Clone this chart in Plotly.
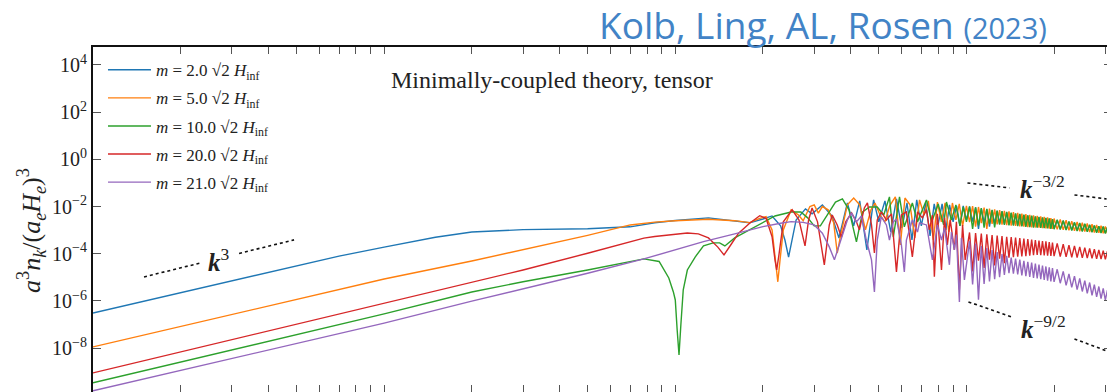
import plotly.graph_objects as go

# ---------------- data (log10 of a^3 n_k/(a_e H_e)^3) ----------------
k_blue = [0.01, 0.03, 0.07, 0.1, 0.12, 0.15, 0.2, 0.3, 0.5, 0.6, 0.7, 0.85, 1.0, 1.3, 1.6, 1.8, 2.0, 2.15, 2.3, 2.38,
          2.45, 2.52, 2.6, 2.8, 2.95, 3.2, 3.45, 3.65, 3.9, 4.1, 4.3, 4.55, 4.8, 5.0, 5.25, 5.5, 5.75, 6.0, 6.25, 6.5,
          6.75, 7.0, 7.25, 7.5, 7.75, 8.0, 8.25, 8.5, 8.75, 9.0, 9.25, 9.5, 9.75, 10.0]
lg_blue = [-6.51, -5.15, -4.10, -3.72, -3.52, -3.30, -3.08, -2.98, -2.94, -2.91, -2.86, -2.69, -2.59, -2.48, -2.61, -2.69, -2.53, -2.40, -2.82, -3.42,
           -4.14, -3.33, -2.57, -2.10, -2.31, -1.93, -2.40, -3.33, -1.85, -2.82, -1.76, -3.84, -1.72, -2.65, -1.76, -3.08, -1.68, -2.91, -1.85, -3.42,
           -1.72, -2.82, -1.85, -3.25, -1.89, -2.74, -1.89, -2.99, -1.93, -2.65, -1.97, -2.82, -1.97, -2.57]

k_orange = [0.01, 0.1, 0.2, 0.3, 0.5, 0.7, 0.85, 1.0, 1.3, 1.6, 1.8, 1.95, 2.05, 2.15, 2.22, 2.25, 2.29, 2.35, 2.5, 2.65,
            2.75, 2.9, 3.0, 3.1, 3.2, 3.35, 3.5, 3.6, 3.7, 3.9, 4.1, 4.3, 4.5, 4.7, 4.85, 5.05, 5.25, 5.45, 5.7, 5.93,
            6.15, 6.4, 6.65, 6.9, 7.15, 7.4, 7.7, 7.95, 8.2, 8.45, 8.7, 8.95, 9.2, 9.45, 9.7, 10.0]
lg_orange = [-7.95, -5.07, -4.31, -3.84, -3.22, -2.78, -2.66, -2.60, -2.54, -2.60, -2.68, -2.50, -2.43, -2.99, -4.69, -5.19, -4.26, -2.99, -2.14, -2.36,
             -2.60, -2.00, -1.93, -2.28, -2.00, -2.14, -2.69, -3.97, -3.20, -1.93, -1.64, -1.93, -2.99, -2.14, -1.85, -2.36, -2.65, -1.97, -1.59, -3.63,
             -1.64, -1.93, -3.33, -1.72, -2.36, -1.76, -3.42, -1.81, -2.65, -1.85, -3.08, -1.85, -2.57, -1.89, -2.82, -1.97]

k_green = [0.01, 0.1, 0.2, 0.3, 0.5, 0.7, 0.78, 0.88, 0.95, 0.985, 1.0, 1.015, 1.03, 1.045, 1.065, 1.1, 1.17, 1.25, 1.35, 1.42,
           1.48, 1.6, 1.8, 2.0, 2.2, 2.5, 2.7, 2.85, 3.0, 3.15, 3.35, 3.55, 3.75, 3.95, 4.19, 4.4, 4.64, 4.94, 5.2, 5.44,
           5.61, 5.89, 6.12, 6.52, 6.79, 7.29, 7.6, 8.0, 8.35, 8.54, 8.88, 9.2, 9.5, 9.75, 10.0]
lg_green = [-9.47, -6.55, -5.62, -5.19, -4.69, -4.31, -4.22, -4.33, -5.03, -5.62, -5.96, -7.23, -8.29, -7.02, -5.53, -4.69, -4.14, -3.67, -3.54, -3.54,
            -3.67, -3.33, -2.99, -2.65, -2.40, -2.23, -2.23, -2.48, -2.82, -2.82, -2.27, -1.81, -1.68, -2.14, -3.50, -2.23, -2.02, -2.02, -2.36, -1.59,
            -3.29, -1.59, -2.86, -1.85, -2.65, -1.72, -2.65, -1.89, -2.78, -1.81, -2.57, -1.93, -2.82, -2.02, -2.65]

k_red = [0.01, 0.1, 0.2, 0.3, 0.5, 0.7, 0.78, 0.85, 1.0, 1.1, 1.2, 1.3, 1.4, 1.47, 1.55, 1.65, 1.8, 1.95, 2.05, 2.15,
         2.2, 2.23, 2.27, 2.35, 2.52, 2.66, 2.79, 2.87, 2.95, 3.08, 3.25, 3.38, 3.46, 3.6, 3.72, 3.85, 4.03, 4.19, 4.29, 4.46,
         4.57, 4.72, 4.83, 4.94, 5.10, 5.31, 5.53, 5.75, 5.98, 6.22, 6.52, 6.79, 7.06, 7.29, 7.46, 7.64, 7.76, 7.95, 8.21, 8.41,
         8.6, 8.8, 9.09, 9.24, 9.46, 9.7, 9.9]
lg_red = [-9.05, -6.10, -5.19, -4.69, -3.98, -3.50, -3.34, -3.27, -3.17, -3.12, -3.16, -3.33, -3.72, -4.05, -3.63, -3.13, -2.71, -2.39, -2.50, -3.28,
          -4.26, -4.69, -4.05, -2.65, -2.14, -2.57, -3.67, -2.57, -2.06, -2.65, -4.47, -2.78, -2.36, -2.78, -3.29, -2.65, -2.27, -2.65, -2.99, -2.06,
          -1.85, -2.78, -3.97, -2.57, -2.23, -2.57, -2.31, -4.77, -2.36, -2.23, -4.14, -2.23, -2.48, -2.14, -2.99, -2.36, -4.98, -2.31, -4.69, -2.48,
          -3.63, -2.57, -3.84, -2.65, -5.53, -2.78, -4.26]

k_purple = [0.01, 0.1, 0.2, 0.3, 0.5, 0.78, 1.0, 1.25, 1.6, 2.0, 2.3, 2.5, 2.75, 3.0, 3.2, 3.38, 3.52, 3.66, 3.9, 4.03,
            4.19, 4.36, 4.53, 4.72, 4.83, 4.94, 5.10, 5.31, 5.44, 5.61, 5.75, 5.98, 6.12, 6.22, 6.52, 6.79, 6.9, 7.29, 7.64, 7.95,
            8.21, 8.41, 8.74, 8.88, 9.09, 9.24, 9.46, 9.61, 9.84]
lg_purple = [-9.81, -6.94, -6.01, -5.49, -4.83, -4.22, -3.84, -3.49, -3.16, -2.85, -2.71, -2.64, -2.67, -2.78, -3.13, -3.71, -4.26, -3.63, -2.57, -2.27,
             -2.65, -2.40, -3.42, -4.26, -5.62, -3.42, -2.44, -2.78, -3.42, -2.65, -2.53, -3.63, -4.77, -3.42, -2.57, -3.08, -2.69, -2.78, -4.26, -2.78,
             -3.42, -2.91, -4.47, -3.08, -3.84, -3.20, -6.04, -3.33, -5.11]

k_band = [10.25, 10.5, 10.75, 11, 11.25, 11.5, 11.75, 12, 12.25, 12.5, 12.75, 13, 13.25, 13.5, 13.75, 14,
          14.25, 14.5, 14.75, 15, 15.25, 15.5, 15.75, 16, 16.25, 16.5, 16.75, 17, 17.25, 17.5, 17.75, 18,
          18.25, 18.5, 18.75, 19, 19.25, 19.5, 19.75, 20, 20.5, 21, 21.5, 22, 22.5, 23, 23.5, 24,
          24.5, 25, 25.5, 26, 26.5, 27, 27.5, 28, 28.5, 29, 29.5, 30, 30.5, 31, 31.5]
band_blue = [-2.01, -2.64, -2.05, -2.95, -2.09, -2.68, -2.12, -2.85, -2.16, -2.72, -2.19, -2.74, -2.22, -2.75, -2.25, -2.77,
             -2.28, -2.78, -2.31, -2.80, -2.33, -2.81, -2.36, -2.83, -2.39, -2.84, -2.41, -2.86, -2.44, -2.87, -2.46, -2.88,
             -2.48, -2.89, -2.50, -2.90, -2.52, -2.92, -2.55, -2.93, -2.58, -2.95, -2.61, -2.97, -2.65, -2.99, -2.69, -3.01,
             -2.72, -3.03, -2.75, -3.04, -2.79, -3.06, -2.82, -3.08, -2.85, -3.09, -2.87, -3.11, -2.90, -3.12, -2.93]
band_orange = [-2.66, -1.98, -2.85, -2.02, -2.70, -2.05, -2.95, -2.09, -2.74, -2.12, -2.76, -2.15, -2.77, -2.18, -2.79, -2.21,
               -2.81, -2.24, -2.82, -2.27, -2.84, -2.30, -2.85, -2.32, -2.87, -2.35, -2.88, -2.37, -2.89, -2.40, -2.90, -2.42,
               -2.92, -2.44, -2.93, -2.46, -2.94, -2.49, -2.95, -2.51, -2.97, -2.55, -2.99, -2.58, -3.01, -2.62, -3.03, -2.65,
               -3.05, -2.69, -3.06, -2.72, -3.08, -2.75, -3.10, -2.78, -3.11, -2.81, -3.13, -2.84, -3.14, -2.86, -3.16]
band_green = [-1.99, -2.95, -2.03, -2.80, -2.07, -2.90, -2.10, -2.73, -2.14, -2.88, -2.17, -2.77, -2.20, -2.78, -2.23, -2.80,
              -2.26, -2.81, -2.29, -2.83, -2.31, -2.84, -2.34, -2.86, -2.37, -2.87, -2.39, -2.89, -2.42, -2.90, -2.44, -2.91,
              -2.46, -2.92, -2.48, -2.93, -2.50, -2.95, -2.53, -2.96, -2.56, -2.98, -2.59, -3.00, -2.63, -3.02, -2.67, -3.04,
              -2.70, -3.06, -2.73, -3.07, -2.77, -3.09, -2.80, -3.11, -2.83, -3.12, -2.85, -3.14, -2.88, -3.15, -2.91]
band_red = [-3.10, -4.75, -3.12, -4.30, -3.15, -4.60, -3.18, -4.25, -3.21, -4.50, -3.23, -4.21, -3.25, -4.40, -3.28, -4.17,
            -3.30, -4.15, -3.32, -4.13, -3.34, -4.11, -3.36, -4.10, -3.38, -4.08, -3.40, -4.06, -3.42, -4.05, -3.44, -4.06,
            -3.46, -4.07, -3.48, -4.08, -3.51, -4.09, -3.53, -4.10, -3.56, -4.12, -3.60, -4.13, -3.64, -4.15, -3.67, -4.16,
            -3.71, -4.18, -3.74, -4.19, -3.78, -4.20, -3.81, -4.22, -3.84, -4.23, -3.87, -4.24, -3.89, -4.26, -3.92]
band_purple = [-3.47, -5.30, -3.57, -5.95, -3.67, -5.28, -3.76, -5.18, -3.85, -5.08, -3.93, -4.99, -4.01, -4.90, -4.09, -4.82,
               -4.16, -4.84, -4.21, -4.88, -4.25, -4.92, -4.30, -4.95, -4.34, -4.98, -4.38, -5.02, -4.42, -5.05, -4.46, -5.08,
               -4.50, -5.11, -4.54, -5.14, -4.58, -5.17, -4.61, -5.19, -4.66, -5.25, -4.75, -5.34, -4.86, -5.43, -4.95, -5.52,
               -5.05, -5.60, -5.14, -5.68, -5.22, -5.76, -5.31, -5.83, -5.39, -5.90, -5.47, -5.97, -5.54, -6.04, -5.61]

series_names = ["<i>m</i> = 2.0 √2 <i>H</i><sub>inf</sub>", "<i>m</i> = 5.0 √2 <i>H</i><sub>inf</sub>",
                "<i>m</i> = 10.0 √2 <i>H</i><sub>inf</sub>", "<i>m</i> = 20.0 √2 <i>H</i><sub>inf</sub>",
                "<i>m</i> = 21.0 √2 <i>H</i><sub>inf</sub>"]
series_colors = ["#1f77b4", "#ff7f0e", "#2ca02c", "#d62728", "#9467bd"]

# power-law guide lines (two dotted pieces each, split around the label)
guide_k3_k = [[0.01497, 0.0235], [0.03175, 0.04904]]
guide_k3_n = [[1.04e-5, 4.11e-5], [1.03e-4, 3.85e-4]]
guide_k32_k = [[10.08, 14.05], [23.5, 30.3]]
guide_k32_n = [[0.100, 0.0614], [0.0310, 0.0210]]
guide_k92_k = [[10.16, 14.28], [23.5, 30.3]]
guide_k92_n = [[9.08e-7, 2.10e-7], [2.45e-8, 7.6e-9]]

y_tick_vals = [1e4, 1e2, 1e0, 1e-2, 1e-4, 1e-6, 1e-8]
y_tick_text = ["10<sup>4</sup>", "10<sup>2</sup>", "10<sup>0</sup>", "10<sup>−2</sup>",
               "10<sup>−4</sup>", "10<sup>−6</sup>", "10<sup>−8</sup>"]
x_tick_vals = [m * 10.0 ** e for e in (-2, -1, 0, 1) for m in range(1, 10)]

# ---------------- figure ----------------
fig = go.Figure()
curves = [
    (k_blue, lg_blue, band_blue),
    (k_orange, lg_orange, band_orange),
    (k_green, lg_green, band_green),
    (k_red, lg_red, band_red),
    (k_purple, lg_purple, band_purple),
]
for i, ((kk, lg, band), name, col) in enumerate(zip(curves, series_names, series_colors)):
    xs = kk + k_band
    ys = [10.0 ** v for v in lg + band]
    fig.add_trace(go.Scatter(x=xs, y=ys, mode="lines", name=name, legendgroup=f"g{i}",
                             line=dict(color=col, width=1.4)))

for gk, gn in [(guide_k3_k, guide_k3_n), (guide_k32_k, guide_k32_n), (guide_k92_k, guide_k92_n)]:
    for seg_k, seg_n in zip(gk, gn):
        fig.add_trace(go.Scatter(x=seg_k, y=seg_n, mode="lines", showlegend=False,
                                 line=dict(color="#111", width=1.6, dash="dot")))

serif = "Liberation Serif"
# the page body has an 8px default margin; the figure is sized so that the
# plotting box lands where the reference has it
fig.update_layout(
    width=1107, height=384,
    margin=dict(l=85, r=3, t=39, b=0),
    paper_bgcolor="white", plot_bgcolor="white",
    showlegend=True,
    legend=dict(x=0.0098, y=0.985, xanchor="left", yanchor="top",
                bgcolor="rgba(0,0,0,0)", borderwidth=0,
                font=dict(family=serif, size=17, color="#222"),
                itemwidth=43, tracegroupgap=3),
    xaxis=dict(type="log", range=[-2, 1.5], showline=True, linecolor="#111", linewidth=2,
               mirror="ticks", ticks="inside", ticklen=7, tickwidth=1, tickcolor="#555",
               tickvals=x_tick_vals, showticklabels=False, showgrid=False, zeroline=False),
    yaxis=dict(type="log", range=[-9.86, 4.76], showline=True, linecolor="#111", linewidth=2,
               mirror="ticks", ticks="inside", ticklen=8, tickwidth=1, tickcolor="#555",
               tickvals=y_tick_vals, ticktext=y_tick_text,
               tickfont=dict(family=serif, size=20, color="#222"),
               showgrid=False, zeroline=False),
)

annos = [
    dict(text="Minimally-coupled theory, tensor", xref="paper", yref="paper", x=0.4504, y=0.904,
         xanchor="center", yanchor="middle", showarrow=False, font=dict(family=serif, size=24, color="#222")),
    dict(text="<i><b>k</b></i><sup>3</sup>", xref="x", yref="y", x=-1.567, y=-4.263,
         showarrow=False, font=dict(family=serif, size=25, color="#222")),
    dict(text="<i><b>k</b></i><sup>−3/2</sup>", xref="x", yref="y", x=1.261, y=-1.169,
         showarrow=False, font=dict(family=serif, size=25, color="#222")),
    dict(text="<i><b>k</b></i><sup>−9/2</sup>", xref="x", yref="y", x=1.265, y=-7.10,
         showarrow=False, font=dict(family=serif, size=25, color="#222")),
    dict(text="<i>a</i><sup>3</sup><i>n<sub>k</sub></i>/(<i>a<sub>e</sub>H<sub>e</sub></i>)<sup>3</sup>",
         xref="paper", yref="paper", x=-0.0608, y=0.467, textangle=-90,
         xanchor="center", yanchor="middle", showarrow=False,
         font=dict(family=serif, size=26, color="#222")),
    dict(text='Kolb, Ling, AL, Rosen <span style="font-size:29px">(2023)</span>',
         xref="paper", yref="paper", x=0.4946, y=1.064, xanchor="left", yanchor="middle",
         showarrow=False, font=dict(family="Open Sans", size=37, color="#4283c6")),
]
fig.update_layout(annotations=annos)

fig.write_html("out.html")
